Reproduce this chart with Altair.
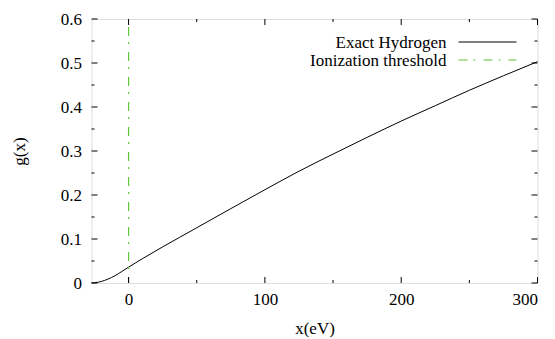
import altair as alt
import pandas as pd

# g(x) for exact hydrogen, x in eV
energy_ev = [-27.2, -25, -22, -20, -17.5, -15, -12.5, -10, -5, 0, 5, 10, 15, 25,
             50, 75, 100, 125, 150, 175, 200, 225, 250, 275, 300]
g_values = [0.0, 0.0005, 0.002, 0.0035, 0.006, 0.009, 0.0125, 0.0165, 0.026,
            0.036, 0.0455, 0.055, 0.064, 0.082, 0.1255, 0.169, 0.212, 0.254,
            0.293, 0.331, 0.368, 0.403, 0.438, 0.471, 0.503]

threshold_ev = [0.0]

x_major = [0, 100, 200, 300]
x_minor = [50, 150, 250]
y_major = [0, 0.1, 0.2, 0.3, 0.4, 0.5, 0.6]
y_minor = [0.05, 0.15, 0.25, 0.35, 0.45, 0.55]

legend_labels = ["Exact Hydrogen", "Ionization threshold"]

W, H = 446, 264
FONT = "Liberation Serif"
FS = 17
GREEN = "#5cc83a"
DASH = [9, 6, 2, 8]

curve = pd.DataFrame({"x": energy_ev, "g": g_values})
thr = pd.DataFrame({"x": threshold_ev})

xscale = alt.Scale(domain=[-27.2, 300], nice=False, zero=False)
yscale = alt.Scale(domain=[0, 0.6], nice=False, zero=True)

xaxis = alt.Axis(values=x_major, format="d", grid=False, ticks=False, domain=False,
                 labelFont=FONT, labelFontSize=FS, labelColor="black", labelPadding=8,
                 title="x(eV)", titleFont=FONT, titleFontSize=FS, titleFontWeight="normal",
                 titleColor="black", titleY=45, titleBaseline="middle")
yaxis = alt.Axis(values=y_major, format=".1~f", grid=False, ticks=False, domain=False,
                 labelFont=FONT, labelFontSize=FS, labelColor="black", labelPadding=10,
                 title="g(x)", titleFont=FONT, titleFontSize=FS, titleFontWeight="normal",
                 titleColor="black", titleX=-72, titleY=H / 2, titleBaseline="middle")

line = alt.Chart(curve).mark_line(color="black", strokeWidth=1, interpolate="monotone").encode(
    x=alt.X("x:Q", scale=xscale, axis=xaxis),
    y=alt.Y("g:Q", scale=yscale, axis=yaxis),
)

threshold = alt.Chart(thr).mark_rule(color=GREEN, strokeWidth=1.2, strokeDash=DASH,
                                     strokeDashOffset=17).encode(
    x=alt.X("x:Q", scale=xscale),
    y=alt.value(0),
    y2=alt.value(H),
)

# inward ticks on all four sides
def xticks(values, length):
    df = pd.DataFrame({"x": values})
    bottom = alt.Chart(df).mark_rule(color="black", strokeWidth=1).encode(
        x=alt.X("x:Q", scale=xscale), y=alt.value(H), y2=alt.value(H - length))
    top = alt.Chart(df).mark_rule(color="black", strokeWidth=1).encode(
        x=alt.X("x:Q", scale=xscale), y=alt.value(0), y2=alt.value(length))
    return [bottom, top]

def yticks(values, length):
    df = pd.DataFrame({"g": values})
    left = alt.Chart(df).mark_rule(color="black", strokeWidth=1).encode(
        y=alt.Y("g:Q", scale=yscale), x=alt.value(0), x2=alt.value(length))
    right = alt.Chart(df).mark_rule(color="black", strokeWidth=1).encode(
        y=alt.Y("g:Q", scale=yscale), x=alt.value(W), x2=alt.value(W - length))
    return [left, right]

ticks = xticks(x_major, 6) + xticks(x_minor, 3) + yticks(y_major, 6) + yticks(y_minor, 3)

# key in the upper right corner
def key_label(text, ypos):
    return alt.Chart(pd.DataFrame({"label": [text]})).mark_text(
        align="right", baseline="middle", font=FONT, fontSize=FS, color="black"
    ).encode(text="label:N", x=alt.value(355), y=alt.value(ypos))

key_text1 = key_label(legend_labels[0], 24)
key_text2 = key_label(legend_labels[1], 42)
key_line1 = alt.Chart(pd.DataFrame({"k": [0]})).mark_rule(color="black", strokeWidth=1).encode(
    x=alt.value(367), x2=alt.value(425), y=alt.value(23))
key_line2 = alt.Chart(pd.DataFrame({"k": [0]})).mark_rule(
    color=GREEN, strokeWidth=1.2, strokeDash=DASH).encode(
    x=alt.value(367), x2=alt.value(425), y=alt.value(41))

chart = alt.layer(line, threshold, *ticks, key_text1, key_text2, key_line1, key_line2).properties(
    width=W, height=H,
    autosize=alt.AutoSizeParams(type="none"),
    padding={"left": 91.5, "top": 19, "right": 17.5, "bottom": 56},
).configure_view(stroke="black", strokeWidth=1).configure(background="white")

chart.save("out.html", embed_options={"renderer": "svg", "actions": False})
